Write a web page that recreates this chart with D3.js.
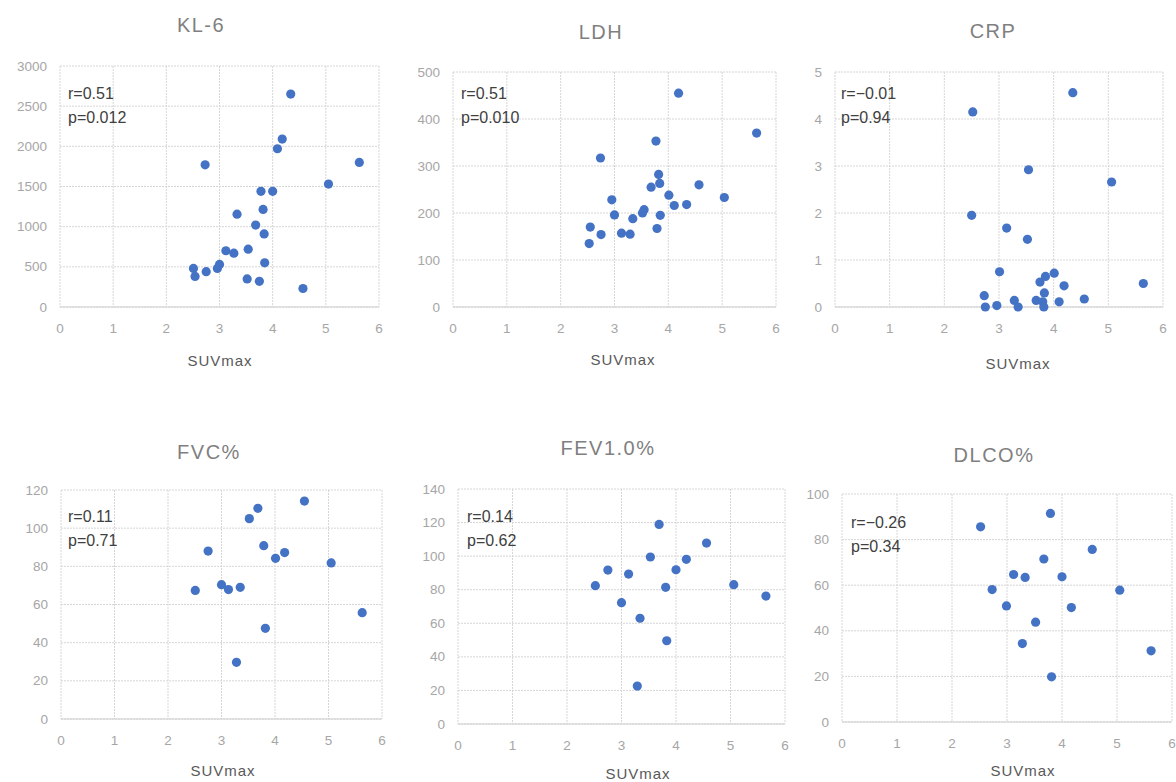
<!DOCTYPE html>
<html>
<head>
<meta charset="utf-8">
<script src="https://cdn.jsdelivr.net/npm/d3@7"></script>
<style>
  body { margin: 0; background: #fff; }
  svg { display: block; font-family: "Liberation Sans", Arial, sans-serif; }
  .grid line { stroke: #d6d6d6; stroke-width: 1; stroke-dasharray: 2,1; }
  .tick-label { fill: #a6a6a6; font-size: 13.5px; }
  .title { fill: #7f7f7f; font-size: 20px; letter-spacing: 1.5px; }
  .xlab { fill: #595959; font-size: 15px; letter-spacing: 1px; }
  .stat { fill: #404040; font-size: 16px; }
</style>
</head>
<body>
<svg width="1176" height="782"></svg>
<script>
// values
var klSuv  = [4.34, 4.18, 4.09, 2.73, 5.63, 5.05, 3.78, 4.00, 3.82, 3.33, 3.68, 3.84, 3.12, 3.27, 3.54, 3.00, 2.96, 3.85, 2.51, 2.54, 2.75, 3.52, 3.75, 4.57];
var klVal  = [2650, 2090, 1970, 1770, 1800, 1530, 1440, 1440, 1215, 1155, 1020, 910, 700, 670, 720, 530, 480, 550, 480, 380, 440, 350, 320, 230];

var ldhSuv = [4.19, 5.64, 3.77, 2.74, 3.82, 3.84, 3.68, 4.57, 4.01, 5.04, 4.11, 4.34, 2.95, 3.00, 3.55, 3.52, 3.34, 3.85, 2.55, 2.75, 3.13, 3.29, 3.79, 2.53];
var ldhVal = [455, 370, 353, 317, 282, 263, 255, 260, 238, 233, 216, 218, 228, 196, 207, 200, 188, 195, 170, 154, 157, 155, 167, 135];

var crpSuv = [4.35, 2.52, 3.54, 5.06, 2.50, 3.14, 3.52, 3.01, 4.01, 3.85, 3.75, 4.19, 5.64, 3.83, 2.73, 3.28, 3.68, 3.80, 4.56, 4.10, 2.96, 2.75, 3.35, 3.82];
var crpVal = [4.56, 4.15, 2.92, 2.66, 1.95, 1.68, 1.44, 0.75, 0.72, 0.65, 0.53, 0.45, 0.50, 0.30, 0.24, 0.14, 0.14, 0.11, 0.17, 0.11, 0.03, 0.00, 0.00, 0.00];

var fvcSuv = [4.55, 3.68, 3.52, 2.75, 3.79, 4.01, 4.18, 5.05, 2.51, 3.00, 3.13, 3.35, 5.63, 3.82, 3.28];
var fvcVal = [114.2, 110.4, 105.0, 88.0, 90.8, 84.2, 87.2, 81.8, 67.4, 70.4, 67.8, 69.0, 55.7, 47.5, 29.7];

var fevSuv = [3.69, 4.56, 3.53, 4.19, 2.75, 3.13, 4.00, 2.52, 3.81, 5.06, 5.65, 3.00, 3.34, 3.83, 3.29];
var fevVal = [118.9, 107.8, 99.5, 98.1, 91.7, 89.3, 91.9, 82.4, 81.4, 83.0, 76.2, 72.3, 63.0, 49.6, 22.6];

var dlcoSuv = [3.79, 2.52, 4.55, 3.67, 3.12, 3.33, 4.00, 2.73, 5.05, 2.99, 4.17, 3.52, 3.28, 5.62, 3.81];
var dlcoVal = [91.5, 85.6, 75.7, 71.5, 64.7, 63.4, 63.7, 58.1, 57.8, 50.9, 50.2, 43.8, 34.4, 31.2, 19.8];

var titles  = ["KL-6", "LDH", "CRP", "FVC%", "FEV1.0%", "DLCO%"];
var rLabels = ["r=0.51", "r=0.51", "r=\u22120.01", "r=0.11", "r=0.14", "r=\u22120.26"];
var pLabels = ["p=0.012", "p=0.010", "p=0.94", "p=0.71", "p=0.62", "p=0.34"];
var yMaxes  = [3000, 500, 5, 120, 140, 100];
var yStepsz = [500, 100, 1, 20, 20, 20];
var xTicks  = [0, 1, 2, 3, 4, 5, 6];
var xName   = "SUVmax";

var seriesX = [klSuv, ldhSuv, crpSuv, fvcSuv, fevSuv, dlcoSuv];
var seriesY = [klVal, ldhVal, crpVal, fvcVal, fevVal, dlcoVal];

// panel placement in the 1176x782 page
var boxes = [
  {l: 60,  r: 379,  t: 66,  b: 307, tx: 201, ty: 32,  lx: 220,  ly: 366, sx: 68,  sy: 99},
  {l: 453, r: 776,  t: 72,  b: 307, tx: 601, ty: 39,  lx: 623,  ly: 365, sx: 461, sy: 99},
  {l: 835, r: 1163, t: 72,  b: 307, tx: 993, ty: 38,  lx: 1018, ly: 369, sx: 841, sy: 99},
  {l: 61,  r: 382,  t: 490, b: 719, tx: 209, ty: 459, lx: 223,  ly: 776, sx: 68,  sy: 522},
  {l: 458, r: 785,  t: 489, b: 724, tx: 608, ty: 455, lx: 638,  ly: 779, sx: 467, sy: 522},
  {l: 842, r: 1172, t: 494, b: 722, tx: 994, ty: 462, lx: 1023, ly: 776, sx: 851, sy: 528}
];

var svg = d3.select("svg");

boxes.forEach(function(bx, i) {
    var x = d3.scaleLinear().domain([0, 6]).range([bx.l, bx.r]);
    var y = d3.scaleLinear().domain([0, yMaxes[i]]).range([bx.b, bx.t]);
    var yTicks = d3.range(0, yMaxes[i] + yStepsz[i] / 2, yStepsz[i]);

    var g = svg.append("g");

    var grid = g.append("g").attr("class", "grid");
    grid.selectAll(".h").data(yTicks).enter().append("line")
        .attr("x1", bx.l).attr("x2", bx.r)
        .attr("y1", function(d) { return y(d); })
        .attr("y2", function(d) { return y(d); });
    grid.selectAll(".v").data(xTicks).enter().append("line")
        .attr("y1", bx.t).attr("y2", bx.b)
        .attr("x1", function(d) { return x(d); })
        .attr("x2", function(d) { return x(d); });

    // base line
    g.append("line")
        .attr("x1", bx.l).attr("x2", bx.r)
        .attr("y1", y(0)).attr("y2", y(0))
        .attr("stroke", "#d0d0d0").attr("stroke-width", 1.2);

    g.selectAll(".yl").data(yTicks).enter().append("text")
        .attr("class", "tick-label")
        .attr("x", bx.l - 13)
        .attr("y", function(d) { return y(d) + 4.5; })
        .attr("text-anchor", "end")
        .text(function(d) { return d; });

    g.selectAll(".xl").data(xTicks).enter().append("text")
        .attr("class", "tick-label")
        .attr("x", function(d) { return x(d); })
        .attr("y", bx.b + 26)
        .attr("text-anchor", "middle")
        .text(function(d) { return d; });

    g.append("text").attr("class", "title")
        .attr("x", bx.tx).attr("y", bx.ty)
        .attr("text-anchor", "middle")
        .text(titles[i]);

    g.append("text").attr("class", "xlab")
        .attr("x", bx.lx).attr("y", bx.ly)
        .attr("text-anchor", "middle")
        .text(xName);

    g.append("text").attr("class", "stat")
        .attr("x", bx.sx).attr("y", bx.sy)
        .text(rLabels[i]);
    g.append("text").attr("class", "stat")
        .attr("x", bx.sx).attr("y", bx.sy + 24)
        .text(pLabels[i]);

    var pts = d3.zip(seriesX[i], seriesY[i]);
    g.selectAll("circle").data(pts).enter().append("circle")
        .attr("cx", function(d) { return x(d[0]); })
        .attr("cy", function(d) { return y(d[1]); })
        .attr("r", 4.6)
        .attr("fill", "#4472c4");
});
</script>
</body>
</html>
